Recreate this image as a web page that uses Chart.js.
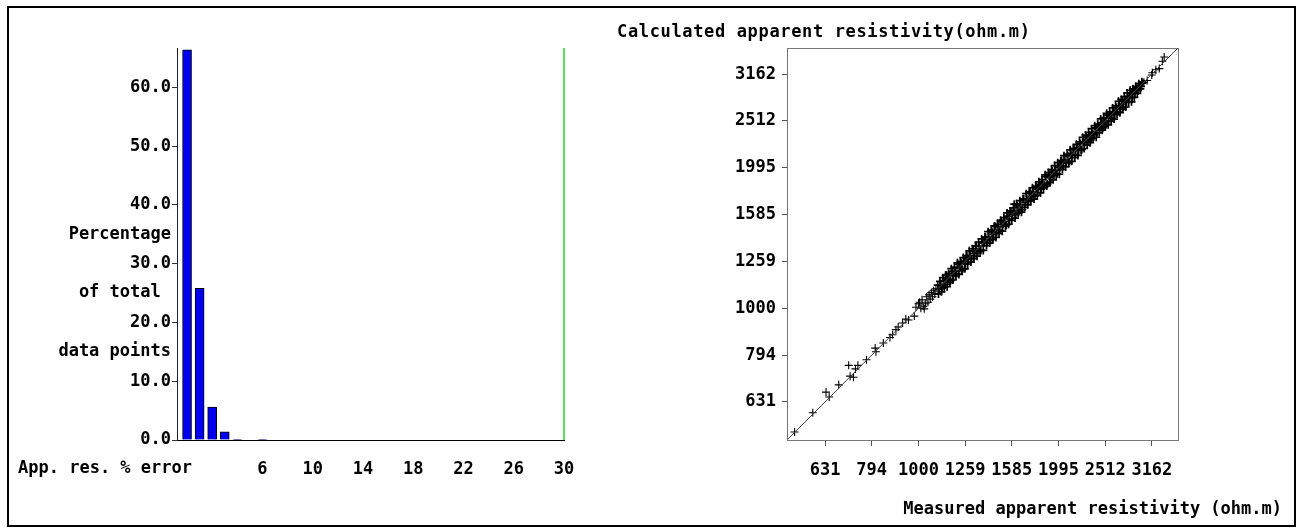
<!DOCTYPE html>
<html>
<head>
<meta charset="utf-8">
<script src="https://cdn.jsdelivr.net/npm/chart.js@4.4.1/dist/chart.umd.min.js"></script>
<style>
  html, body { margin: 0; padding: 0; background: #fff; }
  #wrap { position: relative; width: 1297px; height: 529px; overflow: hidden; }
  canvas { position: absolute; left: 0; top: 0; }
  #frame { position: absolute; left: 7px; top: 6px; width: 1289px; height: 521px;
           border: 2px solid #000; box-sizing: border-box; pointer-events: none; }
</style>
</head>
<body>
<div id="wrap">
  <canvas id="histChart" width="1297" height="529"></canvas>
  <canvas id="fitChart" width="1297" height="529"></canvas>
  <div id="frame"></div>
</div>
<script>
// histogram: % error bins
const errBins = [0, 1, 2, 3, 4, 6];
const errPercent = [66.4, 25.8, 5.6, 1.4, 0.1, 0.1];
const errMax = 66.7;
const errXTicks = [6, 10, 14, 18, 22, 26, 30];
const pctTicks = [0, 10, 20, 30, 40, 50, 60];
const pctTitle = { 35: 'Percentage', 25: 'of total ', 15: 'data points' };

// crossplot: measured vs calculated apparent resistivity (ohm.m)
const resTicks = [631, 794, 1000, 1259, 1585, 1995, 2512, 3162];
const resMin = 523;
const resMax = 3597;
const measured = [
  543, 594, 634, 644, 675, 709, 714, 726, 733, 742, 774, 808, 811, 841, 869, 880, 895, 905, 925, 940,
  952, 980, 988, 1000, 1006, 1012, 1018, 1024, 1029, 1036, 1042, 1048, 1054, 1060, 1066, 1072, 1078, 1084, 1090,
  1100, 1108, 1116, 1124, 1132, 1140, 1148, 1156, 1164, 1172, 1180, 1189, 1198, 1207, 1216, 1225, 1234, 1243, 1252, 1261,
  1270, 1280, 1290, 1300, 1310, 1320, 1330, 1340, 1350, 1360, 1371, 1382, 1393, 1404, 1415, 1426, 1437, 1448, 1459, 1470,
  1482, 1494, 1506, 1518, 1530, 1542, 1554, 1566, 1578, 1590, 1603, 1604, 1616, 1629, 1642, 1655, 1668, 1681, 1694, 1707, 1720,
  1734, 1748, 1762, 1776, 1790, 1804, 1818, 1832, 1846, 1860, 1875, 1890, 1905, 1920, 1935, 1950, 1965, 1980, 1995, 2010,
  2026, 2042, 2058, 2074, 2090, 2106, 2122, 2138, 2154, 2170, 2187, 2204, 2221, 2238, 2255, 2272, 2289, 2306, 2323, 2340,
  2358, 2376, 2394, 2412, 2430, 2448, 2466, 2484, 2502, 2520, 2539, 2558, 2577, 2596, 2615, 2634, 2653, 2672, 2691, 2710,
  2730, 2750, 2770, 2790, 2810, 2830, 2850, 2870, 2890, 2910, 2932, 2954, 2976, 2998, 3020,
  3040, 3090, 3160, 3170, 3225, 3280, 3330, 3360,
  1104, 1112, 1120, 1128, 1136, 1144, 1152, 1160, 1168, 1176, 1185, 1194, 1203, 1212, 1221, 1230, 1239, 1248, 1257, 1266,
  1275, 1285, 1295, 1305, 1315, 1325, 1335, 1345, 1355, 1366, 1377, 1388, 1399, 1410, 1421, 1432, 1443, 1454, 1465, 1476,
  1488, 1500, 1512, 1524, 1536, 1548, 1560, 1572, 1584, 1597, 1610, 1623, 1636, 1649, 1662, 1675, 1688, 1701, 1714, 1727,
  1741, 1755, 1769, 1783, 1797, 1811, 1825, 1839, 1853, 1868, 1883, 1898, 1913, 1928, 1943, 1958, 1973, 1988, 2003, 2018,
  2034, 2050, 2066, 2082, 2098, 2114, 2130, 2146, 2162, 2179, 2196, 2213, 2230, 2247, 2264, 2281, 2298, 2315, 2332, 2349,
  2367, 2385, 2403, 2421, 2439, 2457, 2475, 2493, 2511, 2530, 2549, 2568, 2587, 2606, 2625, 2644, 2663, 2682, 2701, 2720,
  2740, 2760, 2780, 2800, 2820, 2840, 2860, 2880, 2900, 2921, 2943, 2965, 2987, 3009
];
const calculated = [
  544, 598, 662, 646, 686, 755, 716, 712, 742, 755, 776, 822, 807, 843, 866, 878, 900, 912, 930, 948,
  944, 962, 1005, 1022, 1030, 1000, 1042, 1010, 997, 1022, 1058, 1030, 1068, 1046, 1080, 1058, 1090, 1072, 1100,
  1120, 1098, 1122, 1102, 1146, 1124, 1176, 1153, 1174, 1146, 1199, 1176, 1200, 1186, 1240, 1218, 1248, 1212, 1261, 1245,
  1294, 1275, 1294, 1275, 1328, 1309, 1359, 1320, 1358, 1329, 1385, 1379, 1417, 1382, 1421, 1396, 1456, 1438, 1495, 1452,
  1494, 1467, 1529, 1510, 1532, 1505, 1573, 1550, 1611, 1585, 1617, 1668, 1584, 1655, 1619, 1663, 1625, 1711, 1680, 1712, 1691,
  1774, 1729, 1774, 1737, 1815, 1797, 1836, 1797, 1850, 1836, 1911, 1843, 1916, 1903, 1964, 1919, 1973, 1938, 2017, 1998,
  2067, 2011, 2074, 2049, 2117, 2058, 2124, 2121, 2191, 2131, 2198, 2182, 2248, 2184, 2262, 2261, 2326, 2274, 2344, 2293,
  2363, 2350, 2428, 2371, 2445, 2431, 2491, 2429, 2512, 2487, 2585, 2543, 2595, 2547, 2623, 2608, 2685, 2629, 2704, 2688,
  2771, 2692, 2776, 2757, 2835, 2819, 2887, 2821, 2907, 2884, 2955, 2916, 2988, 2977, 3026,
  3040, 3065, 3150, 3185, 3232, 3250, 3370, 3440,
  1073, 1141, 1084, 1162, 1109, 1177, 1112, 1186, 1136, 1215, 1149, 1224, 1172, 1250, 1181, 1258, 1203, 1283, 1214, 1296,
  1243, 1326, 1255, 1340, 1278, 1359, 1292, 1385, 1322, 1406, 1329, 1419, 1361, 1457, 1378, 1468, 1405, 1499, 1417, 1510,
  1445, 1542, 1461, 1561, 1498, 1598, 1512, 1614, 1540, 1639, 1558, 1672, 1597, 1697, 1604, 1712, 1642, 1757, 1663, 1770,
  1696, 1809, 1711, 1824, 1745, 1862, 1763, 1883, 1807, 1928, 1825, 1949, 1859, 1978, 1881, 2017, 1926, 2046, 1933, 2062,
  1979, 2118, 2004, 2134, 2043, 2180, 2060, 2195, 2099, 2240, 2121, 2266, 2174, 2319, 2194, 2343, 2234, 2375, 2257, 2419,
  2310, 2454, 2319, 2474, 2373, 2538, 2401, 2555, 2446, 2608, 2465, 2627, 2512, 2679, 2536, 2707, 2596, 2768, 2617, 2793,
  2663, 2832, 2691, 2884, 2752, 2922, 2760, 2943, 2822, 2979, 2878, 3018, 2942, 3045
];

Chart.defaults.font.family = '"DejaVu Sans Mono", monospace';
Chart.defaults.font.size = 17;
Chart.defaults.font.weight = 'bold';
Chart.defaults.color = '#000';

// loose text labels (not tied to an axis)
const freeText = {
  id: 'freeText',
  afterDraw(chart, args, opts) {
    const ctx = chart.ctx;
    ctx.save();
    ctx.font = 'bold 17px "DejaVu Sans Mono", monospace';
    ctx.fillStyle = '#000';
    ctx.textBaseline = 'middle';
    (opts.items || []).forEach(t => {
      ctx.textAlign = t.align;
      ctx.letterSpacing = t.spacing || '0px';
      ctx.fillText(t.text, t.x, t.y);
    });
    ctx.restore();
  }
};

const areaBox = {
  id: 'areaBox',
  afterDatasetsDraw(chart, args, opts) {
    if (!opts.color) return;
    const a = chart.chartArea;
    const ctx = chart.ctx;
    ctx.save();
    ctx.strokeStyle = opts.color;
    ctx.lineWidth = 1;
    ctx.strokeRect(a.left + 0.5, a.top + 0.5, a.right - a.left, a.bottom - a.top);
    ctx.restore();
  }
};

// left: histogram
new Chart(document.getElementById('histChart'), {
  type: 'bar',
  data: {
    datasets: [{
      data: errBins.map((b, i) => ({ x: b, y: errPercent[i] })),
      backgroundColor: '#0000f0',
      borderColor: '#000',
      borderWidth: 1,
      barThickness: 9
    }, {
      type: 'line',
      data: [{ x: 30, y: 0 }, { x: 30, y: errMax }],
      borderColor: '#22dd22',
      borderWidth: 1.5,
      pointRadius: 0,
      clip: false
    }]
  },
  options: {
    responsive: false,
    animation: false,
    layout: { padding: { left: 0, top: 48, right: 1297 - 564, bottom: 0 } },
    plugins: {
      legend: { display: false },
      tooltip: { enabled: false },
      freeText: { items: [{ text: 'App. res. % error', x: 18, y: 469, align: 'left' }] }
    },
    scales: {
      x: {
        type: 'linear',
        offset: false,
        min: -0.8,
        max: 30,
        afterFit: s => { s.height = 89; },
        afterBuildTicks: s => { s.ticks = errXTicks.map(v => ({ value: v })); },
        grid: { drawOnChartArea: false, drawTicks: false },
        border: { color: '#000', width: 1 },
        ticks: { autoSkip: false, maxRotation: 0, padding: 19, callback: v => String(v) }
      },
      y: {
        min: 0,
        max: errMax,
        afterFit: s => { s.width = 177; },
        afterBuildTicks: s => {
          const vals = pctTicks.concat(Object.keys(pctTitle).map(Number)).sort((a, b) => a - b);
          s.ticks = vals.map(v => ({ value: v }));
        },
        grid: {
          drawOnChartArea: false,
          tickLength: 5,
          tickColor: c => (c.tick && pctTitle[c.tick.value] ? 'rgba(0,0,0,0)' : '#333')
        },
        border: { color: '#222', width: 1 },
        ticks: {
          autoSkip: false,
          padding: 1,
          callback: v => (pctTitle[v] !== undefined ? pctTitle[v] : v.toFixed(1))
        }
      }
    }
  },
  plugins: [freeText]
});

// right: measured vs calculated
new Chart(document.getElementById('fitChart'), {
  type: 'scatter',
  data: {
    datasets: [{
      data: [{ x: resMin, y: resMin }, { x: resMax, y: resMax }],
      showLine: true,
      borderColor: '#444',
      borderWidth: 1,
      pointRadius: 0
    }, {
      data: measured.map((m, i) => ({ x: m, y: calculated[i] })),
      pointStyle: 'cross',
      pointRadius: 4,
      borderColor: '#000',
      borderWidth: c => (c.raw && c.raw.x >= 1100 && c.raw.x <= 3020 ? 1.7 : 1.1)
    }]
  },
  options: {
    responsive: false,
    animation: false,
    layout: { padding: { left: 0, top: 48, right: 1297 - 1178, bottom: 0 } },
    plugins: {
      legend: { display: false },
      tooltip: { enabled: false },
      areaBox: { color: '#777' },
      freeText: {
        items: [
          { text: 'Calculated apparent resistivity(ohm.m)', x: 617, y: 33, align: 'left', spacing: '0.65px' },
          { text: 'Measured apparent resistivity (ohm.m)', x: 1282, y: 510, align: 'right' }
        ]
      }
    },
    scales: {
      x: {
        type: 'logarithmic',
        min: resMin,
        max: resMax,
        afterFit: s => { s.height = 89; },
        afterBuildTicks: s => { s.ticks = resTicks.map(v => ({ value: v })); },
        grid: { drawOnChartArea: false, tickLength: 6, tickColor: '#555' },
        border: { color: '#777', width: 1 },
        ticks: { autoSkip: false, maxRotation: 0, padding: 14, callback: v => String(v) }
      },
      y: {
        type: 'logarithmic',
        min: resMin,
        max: resMax,
        afterFit: s => { s.width = 787; },
        afterBuildTicks: s => { s.ticks = resTicks.map(v => ({ value: v })); },
        grid: { drawOnChartArea: false, tickLength: 5, tickColor: '#555' },
        border: { color: '#777', width: 1 },
        ticks: { autoSkip: false, padding: 6, callback: v => String(v) }
      }
    }
  },
  plugins: [freeText, areaBox]
});
</script>
</body>
</html>
